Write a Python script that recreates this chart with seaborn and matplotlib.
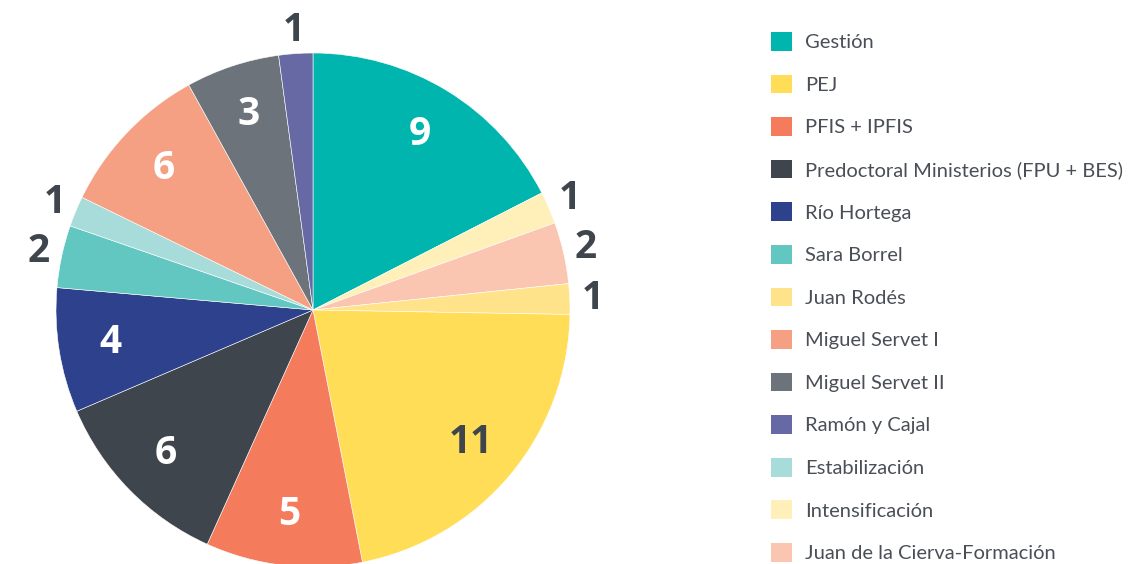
import matplotlib
matplotlib.use("Agg")
import matplotlib.pyplot as plt
import seaborn as sns
from matplotlib.patches import Patch
import numpy as np

# Categories in legend order
categories = ["Gestión", "PEJ", "PFIS + IPFIS", "Predoctoral Ministerios (FPU + BES)",
              "Río Hortega", "Sara Borrel", "Juan Rodés", "Miguel Servet I",
              "Miguel Servet II", "Ramón y Cajal", "Estabilización",
              "Intensificación", "Juan de la Cierva-Formación"]
values = [9, 11, 5, 6, 4, 2, 1, 6, 3, 1, 1, 1, 2]
colors = ["#00B5AD", "#FFDD57", "#F47B5B", "#3F454D", "#2E418C", "#62C6C1",
          "#FFE38B", "#F5A083", "#6C737B", "#6669A4", "#A8DCDA", "#FFF0BA",
          "#FBC6B1"]

# Slice order around the pie (clockwise from 12 o'clock)
pie_order = ["Gestión", "Intensificación", "Juan de la Cierva-Formación",
             "Juan Rodés", "PEJ", "PFIS + IPFIS",
             "Predoctoral Ministerios (FPU + BES)", "Río Hortega", "Sara Borrel",
             "Estabilización", "Miguel Servet I", "Miguel Servet II",
             "Ramón y Cajal"]
# slice sizes as drawn in the picture (degrees), same order as pie_order
slice_deg = [62.9, 7.3, 13.9, 6.9, 77.9, 35.4, 42.5, 28.2, 14.1, 6.9, 35.1, 21.2, 7.7]

sns.set_theme(style="white")
plt.rcParams['font.family'] = ['Lato', 'DejaVu Sans']

dark = "#3F454D"
idx = [categories.index(c) for c in pie_order]
pie_vals = [values[i] for i in idx]
pie_cols = [colors[i] for i in idx]

fig = plt.figure(figsize=(11.28, 5.64), dpi=100)
# square axes holding the pie, in pixel terms
ax = fig.add_axes([56 / 1128, (254 - 257) / 564, 514 / 1128, 514 / 564])
wedges, _ = ax.pie(slice_deg, colors=pie_cols, startangle=90, counterclock=False,
                   radius=1, wedgeprops=dict(edgecolor="white", linewidth=0.4))
ax.set_xlim(-1, 1)
ax.set_ylim(-1, 1)
ax.set_aspect("equal")
ax.axis("off")

for w, v, c in zip(wedges, pie_vals, pie_cols):
    mid = np.deg2rad((w.theta1 + w.theta2) / 2)
    if v <= 2:
        r, col = 1.09, dark
    else:
        r = 0.80
        col = dark if c == "#FFDD57" else "white"
    ax.text(r * np.cos(mid), r * np.sin(mid), str(v), ha="center", va="center",
            fontsize=28, fontweight="bold", color=col, family=["Open Sans", "DejaVu Sans"],
            clip_on=False)

handles = [Patch(facecolor=c, edgecolor="none") for c in colors]
leg = fig.legend(handles, categories, loc="upper left",
                 bbox_to_anchor=(757 / 1128, 1 - 18 / 564), frameon=False,
                 fontsize=14.5, handlelength=1.05, handleheight=1.05,
                 handletextpad=0.65, labelspacing=1.16, borderpad=0.2)
for t in leg.get_texts():
    t.set_color("#4A4F57")

fig.savefig("out.png", dpi=100)
